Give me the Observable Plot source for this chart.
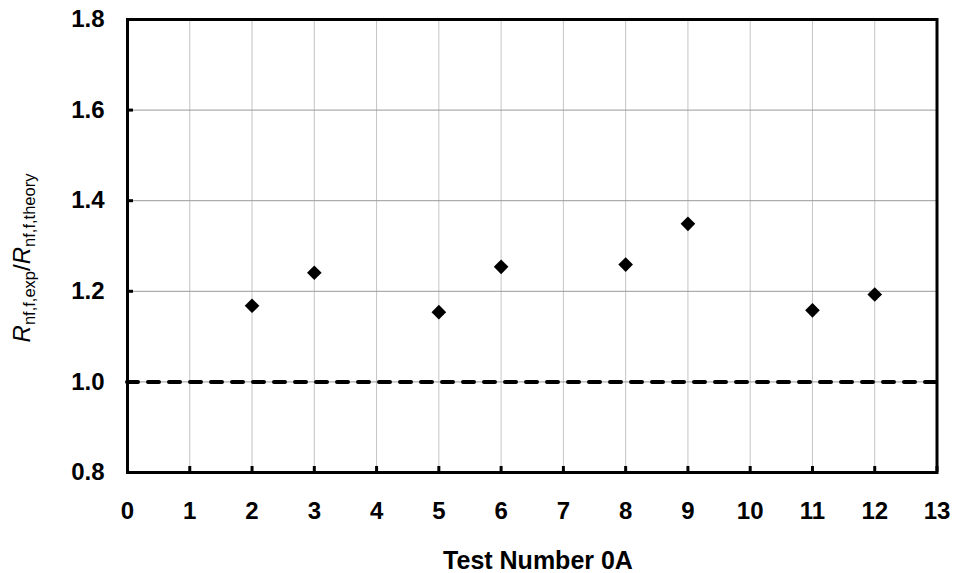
<!DOCTYPE html>
<html>
<head>
<meta charset="utf-8">
<script src="https://cdn.jsdelivr.net/npm/d3@7"></script>
<script src="https://cdn.jsdelivr.net/npm/@observablehq/plot@0.6"></script>
<style>
  html, body { margin: 0; padding: 0; background: #fff; }
  #chart svg { display: block; }
</style>
</head>
<body>
<div id="chart"></div>
<script>
const testNumbers = [2, 3, 5, 6, 8, 9, 11, 12];
const ratios = [1.168, 1.241, 1.154, 1.254, 1.259, 1.349, 1.158, 1.193];
const xTicks = d3.range(0, 14);
const yTicks = [0.8, 1.0, 1.2, 1.4, 1.6, 1.8];
const xGrid = d3.range(1, 13);
const yGrid = [1.0, 1.2, 1.4, 1.6];
const referenceLine = [1.0];
const xTitle = "Test Number 0A";

const points = testNumbers.map((x, i) => ({x, y: ratios[i]}));

const font = "'Liberation Sans', Arial, sans-serif";

const chart = Plot.plot({
  width: 953,
  height: 573,
  marginLeft: 127,
  marginRight: 16.5,
  marginTop: 19,
  marginBottom: 101,
  style: {fontFamily: font, background: "#fff"},
  x: {domain: [0, 13]},
  y: {domain: [0.8, 1.8]},
  marks: [
    Plot.ruleX(xGrid, {stroke: "#c4c4c4", strokeWidth: 1}),
    Plot.ruleY(yGrid, {stroke: "#999999", strokeWidth: 1}),
    Plot.ruleY(referenceLine, {stroke: "black", strokeWidth: 4, strokeDasharray: "11,10", strokeLinecap: "round"}),
    Plot.dot(points, {x: "x", y: "y", symbol: "diamond2", r: 6.6, fill: "black", stroke: "none"}),
    Plot.axisX({ticks: xTicks, tickSize: -6, tickPadding: 35, strokeWidth: 3, fontSize: 24, fontWeight: "bold", fill: "black", label: null}),
    Plot.axisY({ticks: yTicks, tickSize: -6, tickPadding: 29, strokeWidth: 3, fontSize: 24, fontWeight: "bold", fill: "black", label: null, tickFormat: d3.format(".1f")}),
    Plot.frame({stroke: "black", strokeWidth: 3})
  ]
});

document.getElementById("chart").appendChild(chart);

const svg = d3.select(chart);

// X axis title
svg.append("text")
  .attr("x", 538)
  .attr("y", 569)
  .attr("text-anchor", "middle")
  .attr("font-family", font)
  .attr("font-size", 25)
  .attr("font-weight", "bold")
  .attr("fill", "black")
  .text(xTitle);

// Y axis title with subscripts
const yt = svg.append("text")
  .attr("transform", "translate(30,258) rotate(-90)")
  .attr("text-anchor", "middle")
  .attr("font-family", font)
  .attr("font-size", 24)
  .attr("fill", "black");
yt.append("tspan").attr("font-style", "italic").text("R");
yt.append("tspan").attr("font-size", 16.5).attr("dy", 5).text("nf,f,exp");
yt.append("tspan").attr("dy", -5).text("/");
yt.append("tspan").attr("font-style", "italic").text("R");
yt.append("tspan").attr("font-size", 16.5).attr("dy", 5).text("nf,f,theory");
</script>
</body>
</html>
